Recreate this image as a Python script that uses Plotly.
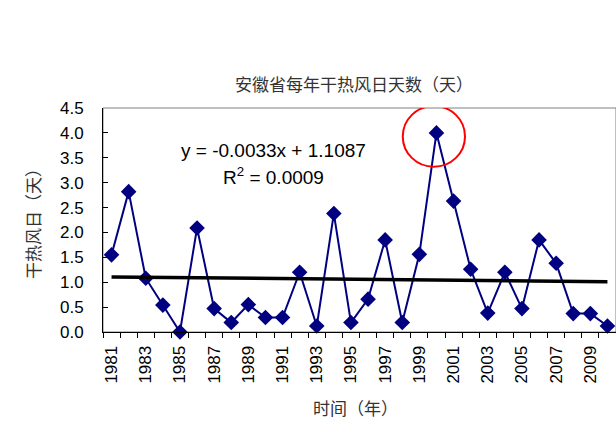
import plotly.graph_objects as go

years = list(range(1981, 2011))
days = [1.55, 2.82, 1.08, 0.54, 0.00, 2.09, 0.47, 0.19, 0.55, 0.29,
        0.29, 1.20, 0.12, 2.38, 0.19, 0.66, 1.85, 0.19, 1.56, 4.00,
        2.63, 1.26, 0.38, 1.20, 0.47, 1.85, 1.38, 0.37, 0.37, 0.12]
slope = -0.0033
intercept = 1.1087
r2 = 0.0009
tick_years = list(range(1981, 2011, 2))
y_ticks = [0.0, 0.5, 1.0, 1.5, 2.0, 2.5, 3.0, 3.5, 4.0, 4.5]

trend = [slope * (i + 1) + intercept for i in range(len(years))]

cjk = "Noto Sans CJK SC"
latin = "Liberation Sans, Arial"

W, H = 616, 432
PL, PT, PR, PB = 103, 108, 616, 332  # plot area in window pixels
pw, ph = PR - PL, PB - PT

def px(x):
    return (x - PL) / pw

def py(y):
    return (PB - y) / ph

fig = go.Figure()
fig.add_trace(go.Scatter(
    x=years, y=days, mode="lines+markers",
    line=dict(color="#000080", width=2),
    marker=dict(symbol="diamond", size=12, color="#000080"),
    cliponaxis=False, showlegend=False,
))
fig.add_trace(go.Scatter(
    x=[years[0], years[-1]], y=[trend[0], trend[-1]], mode="lines",
    line=dict(color="black", width=3.5), showlegend=False,
))

# circle around the peak
peak_i = max(range(len(days)), key=lambda i: days[i])
cx, cy = years[peak_i] - 0.15, days[peak_i] - 0.07
rx, ry = 1.82, 0.61
fig.add_shape(type="circle", xref="x", yref="y",
              x0=cx - rx, x1=cx + rx, y0=cy - ry, y1=cy + ry,
              line=dict(color="#FF0000", width=2))

fig.add_shape(type="rect", xref="paper", yref="paper", x0=0, x1=1, y0=0, y1=1,
              line=dict(color="#808080", width=1), layer="below")

fig.update_layout(
    width=W, height=H,
    margin=dict(l=PL, r=W - PR, t=PT, b=H - PB, autoexpand=False),
    paper_bgcolor="white", plot_bgcolor="white",
    font=dict(family=latin, size=17, color="black"),
    title=dict(text="安徽省每年干热风日天数（天）", x=354 / W, xref="container",
               xanchor="center", y=1 - 85 / H, yref="container", yanchor="middle",
               font=dict(family=cjk, size=17, color="#333333")),
    xaxis=dict(range=[1980.5, 2010.5], tickmode="array", tickvals=tick_years,
               ticktext=[str(y) for y in tick_years], tickangle=-90, ticks="",
               ticklabelstandoff=6,
               showline=True, linecolor="black", linewidth=1, showgrid=False,
               zeroline=False, tickfont=dict(family=latin, size=17),
               minor=dict(tick0=0.5, dtick=1, ticks="outside", ticklen=5,
                          tickcolor="black", showgrid=False)),
    yaxis=dict(range=[0, 4.5], tickmode="array", tickvals=y_ticks,
               ticktext=[f"{v:.1f}" for v in y_ticks], ticks="inside", ticklen=5,
               ticklabelstandoff=15,
               tickcolor="black", showline=True, linecolor="black", linewidth=1,
               showgrid=False, zeroline=False, tickfont=dict(family=latin, size=17)),
    annotations=[
        dict(text="干热风日（天）", xref="paper", yref="paper",
             x=px(32), y=py(220), textangle=-90,
             showarrow=False, xanchor="center", yanchor="middle",
             font=dict(family=cjk, size=17, color="#333333")),
        dict(text="时间（年）", xref="paper", yref="paper",
             x=px(355), y=py(407),
             showarrow=False, xanchor="center", yanchor="middle",
             font=dict(family=cjk, size=17, color="#333333")),
        dict(text=f"y = {slope:.4f}x + {intercept:.4f}", xref="paper", yref="paper",
             x=px(273), y=py(150),
             showarrow=False, xanchor="center", yanchor="middle",
             font=dict(family=latin, size=19, color="black")),
        dict(text=f"R<sup>2</sup> = {r2:.4f}", xref="paper", yref="paper",
             x=px(273), y=py(176),
             showarrow=False, xanchor="center", yanchor="middle",
             font=dict(family=latin, size=19, color="black")),
    ],
)

fig.write_html(
    "out.html",
    config={"displayModeBar": False},
    post_script="document.body.style.margin='0';document.body.style.overflow='hidden';",
)
